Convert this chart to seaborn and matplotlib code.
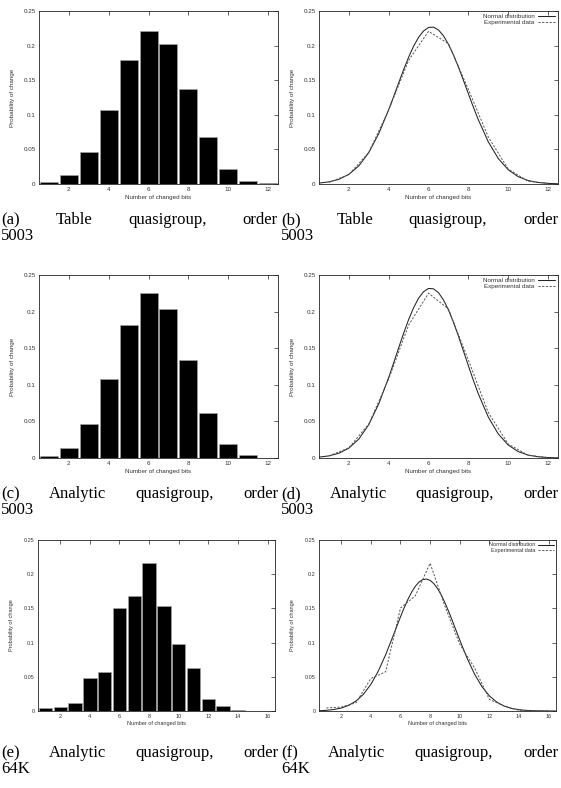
import matplotlib
matplotlib.use("Agg")
import matplotlib.pyplot as plt
import seaborn as sns

# ---------------- data ----------------
bits_12 = [1, 2, 3, 4, 5, 6, 7, 8, 9, 10, 11, 12]
bits_16 = [1, 2, 3, 4, 5, 6, 7, 8, 9, 10, 11, 12, 13, 14, 15, 16]

table_5003 = [0.0024, 0.0135, 0.0458, 0.107, 0.1787, 0.2206, 0.2028, 0.1368,
              0.0679, 0.0217, 0.0039, 0.001]
analytic_5003 = [0.0029, 0.0139, 0.0464, 0.108, 0.1816, 0.2251, 0.2036, 0.1338,
                 0.0621, 0.0191, 0.0038, 0.0005]
analytic_64k = [0.0044, 0.0058, 0.0121, 0.0476, 0.0573, 0.1505, 0.1684, 0.216,
                0.1534, 0.0976, 0.0631, 0.017, 0.0073, 0.001, 0.0, 0.0]

# fitted normal curves
curve_x_12 = [0.5, 1.0, 1.5, 2.0, 2.5, 3.0, 3.5, 4.0, 4.25, 4.5, 4.75, 5.0,
              5.25, 5.5, 5.75, 6.0, 6.25, 6.5, 6.75, 7.0, 7.25, 7.5, 7.75,
              8.0, 8.25, 8.5, 9.0, 9.5, 10.0, 10.5, 11.0, 11.5, 12.0, 12.5]
normal_table_5003 = [0.0013, 0.0031, 0.0068, 0.0140, 0.0262, 0.0455, 0.0728,
                     0.1074, 0.1265, 0.1461, 0.1653, 0.1832, 0.1991, 0.2120,
                     0.2212, 0.2262, 0.2266, 0.2226, 0.2142, 0.2019, 0.1866,
                     0.1690, 0.1500, 0.1304, 0.1111, 0.0928, 0.0609, 0.0369,
                     0.0206, 0.0106, 0.0050, 0.0022, 0.0009, 0.0003]
normal_analytic_5003 = [0.0012, 0.0029, 0.0065, 0.0135, 0.0259, 0.0457, 0.0740,
                        0.1101, 0.1301, 0.1505, 0.1705, 0.1891, 0.2053, 0.2183,
                        0.2272, 0.2316, 0.2311, 0.2258, 0.2160, 0.2023, 0.1855,
                        0.1666, 0.1464, 0.1260, 0.1062, 0.0876, 0.0560, 0.0329,
                        0.0177, 0.0088, 0.0040, 0.0017, 0.0006, 0.0002]
curve_x_16 = [0.5, 1.0, 1.5, 2.0, 2.5, 3.0, 3.5, 4.0, 4.5, 5.0, 5.5, 6.0,
              6.25, 6.5, 6.75, 7.0, 7.25, 7.5, 7.75, 8.0, 8.25, 8.5, 8.75,
              9.0, 9.25, 9.5, 10.0, 10.5, 11.0, 11.5, 12.0, 12.5, 13.0, 13.5,
              14.0, 14.5, 15.0, 15.5, 16.0, 16.5]
normal_analytic_64k = [0.0004, 0.0010, 0.0022, 0.0043, 0.0082, 0.0146, 0.0245,
                       0.0389, 0.0582, 0.0822, 0.1096, 0.1376, 0.1509, 0.1631,
                       0.1737, 0.1823, 0.1885, 0.1921, 0.1929, 0.1910, 0.1863,
                       0.1791, 0.1697, 0.1584, 0.1457, 0.1321, 0.1039, 0.0771,
                       0.0540, 0.0356, 0.0222, 0.0130, 0.0072, 0.0038, 0.0019,
                       0.0009, 0.0004, 0.0002, 0.0001, 0.0000]

y_ticks = [0, 0.05, 0.1, 0.15, 0.2, 0.25]
y_tick_labels = ["0", "0.05", "0.1", "0.15", "0.2", "0.25"]
x_ticks_12 = [2, 4, 6, 8, 10, 12]
x_ticks_16 = [2, 4, 6, 8, 10, 12, 14, 16]

x_label = "Number of changed bits"
y_label = "Probability of change"
legend_labels = ["Normal distribution", "Experimental data"]

captions = [
    (["(a)", "Table", "quasigroup,", "order"], "5003"),
    (["(b)", "Table", "quasigroup,", "order"], "5003"),
    (["(c)", "Analytic", "quasigroup,", "order"], "5003"),
    (["(d)", "Analytic", "quasigroup,", "order"], "5003"),
    (["(e)", "Analytic", "quasigroup,", "order"], "64K"),
    (["(f)", "Analytic", "quasigroup,", "order"], "64K"),
]

# ---------------- figure ----------------
sns.set_style("white")
plt.rcParams["font.family"] = ["Liberation Sans", "DejaVu Sans"]

W, H = 561, 788
fig = plt.figure(figsize=(W / 100, H / 100), dpi=100)
fig.patch.set_facecolor("white")


def add_ax(x0, y0, x1, y1):
    return fig.add_axes([x0 / W, 1 - y1 / H, (x1 - x0) / W, (y1 - y0) / H])


def style_ax(ax, xmax, xticks, fs, hpx, wpx):
    ax.set_xlim(0.5, xmax)
    ax.set_ylim(0, 0.25)
    ax.set_xticks(xticks)
    ax.set_xticklabels([str(t) for t in xticks])
    ax.set_yticks(y_ticks)
    ax.set_yticklabels(y_tick_labels)
    ax.tick_params(direction="in", length=3, width=0.5, top=True, right=True,
                   labelsize=fs, pad=2.5, labelcolor="#333333", color="#222222")
    for s in ax.spines.values():
        s.set_visible(True)
        s.set_linewidth(0.6)
        s.set_color("#222222")
    ax.set_xlabel(x_label, fontsize=fs, color="#333333")
    ax.set_ylabel(y_label, fontsize=fs, color="#333333")
    ax.xaxis.set_label_coords(0.5, -10.5 / hpx)
    ax.yaxis.set_label_coords(-24.0 / wpx, 0.5)
    ax.set_facecolor("white")
    ax.grid(False)


def bar_panel(ax, bits, vals, xmax, xticks, fs, hpx, wpx):
    sns.barplot(x=bits, y=vals, ax=ax, native_scale=True, width=0.9,
                color="black", saturation=1, edgecolor="#aaaaaa", linewidth=0.4,
                errorbar=None)
    style_ax(ax, xmax, xticks, fs, hpx, wpx)


def line_panel(ax, cx, cy, bits, vals, xmax, xticks, fs, hpx, wpx):
    sns.lineplot(x=cx, y=cy, ax=ax, color="#222222", linewidth=0.75,
                 label=legend_labels[0])
    sns.lineplot(x=bits, y=vals, ax=ax, color="#555555", linewidth=0.7,
                 linestyle=(0, (2.2, 1.6)), label=legend_labels[1])
    style_ax(ax, xmax, xticks, fs, hpx, wpx)
    ax.legend(loc="upper right", frameon=False, markerfirst=False, fontsize=fs,
              handlelength=2.8, handletextpad=0.5, labelspacing=0.1,
              borderaxespad=0.25, borderpad=0.2, labelcolor="#333333")


# panel rectangles in pixels (x0, y0, x1, y1)
rects = [
    (39, 11, 278, 184), (319, 11, 558, 184),
    (39, 275, 278, 458), (319, 275, 558, 458),
    (38, 540, 275, 711), (319, 540, 556, 711),
]

axs = [add_ax(*r) for r in rects]
fs_top = 4.5
fs_bot = 4.0
for i, (ax, r) in enumerate(zip(axs, rects)):
    wpx, hpx = r[2] - r[0], r[3] - r[1]
    fs = fs_bot if i >= 4 else fs_top
    if i == 0:
        bar_panel(ax, bits_12, table_5003, 12.5, x_ticks_12, fs, hpx, wpx)
    elif i == 1:
        line_panel(ax, curve_x_12, normal_table_5003, bits_12, table_5003,
                   12.5, x_ticks_12, fs, hpx, wpx)
    elif i == 2:
        bar_panel(ax, bits_12, analytic_5003, 12.5, x_ticks_12, fs, hpx, wpx)
    elif i == 3:
        line_panel(ax, curve_x_12, normal_analytic_5003, bits_12, analytic_5003,
                   12.5, x_ticks_12, fs, hpx, wpx)
    elif i == 4:
        bar_panel(ax, bits_16, analytic_64k, 16.5, x_ticks_16, fs, hpx, wpx)
    else:
        line_panel(ax, curve_x_16, normal_analytic_64k, bits_16, analytic_64k,
                   16.5, x_ticks_16, fs, hpx, wpx)

# ---------------- captions (justified first line) ----------------
renderer = fig.canvas.get_renderer()
cap_font = dict(fontsize=12, family=["Liberation Serif", "DejaVu Serif"],
                color="black", va="baseline", ha="left")
cap_cols = [(1, 278), (281, 558)]
cap_rows = [(224, 240), (498, 514), (757, 773)]


def justified(words, x0, x1, ybase):
    ts = [fig.text(0, 1 - ybase / H, w, **cap_font) for w in words]
    widths = [t.get_window_extent(renderer).width for t in ts]
    gap = (x1 - x0 - sum(widths)) / (len(words) - 1)
    x = x0
    for t, w in zip(ts, widths):
        t.set_x(x / W)
        x += w + gap


for k, (words, second) in enumerate(captions):
    col = cap_cols[k % 2]
    row = cap_rows[k // 2]
    justified(words, col[0], col[1], row[0])
    fig.text(col[0] / W, 1 - row[1] / H, second, **cap_font)

fig.savefig("out.png", dpi=100, facecolor="white")
